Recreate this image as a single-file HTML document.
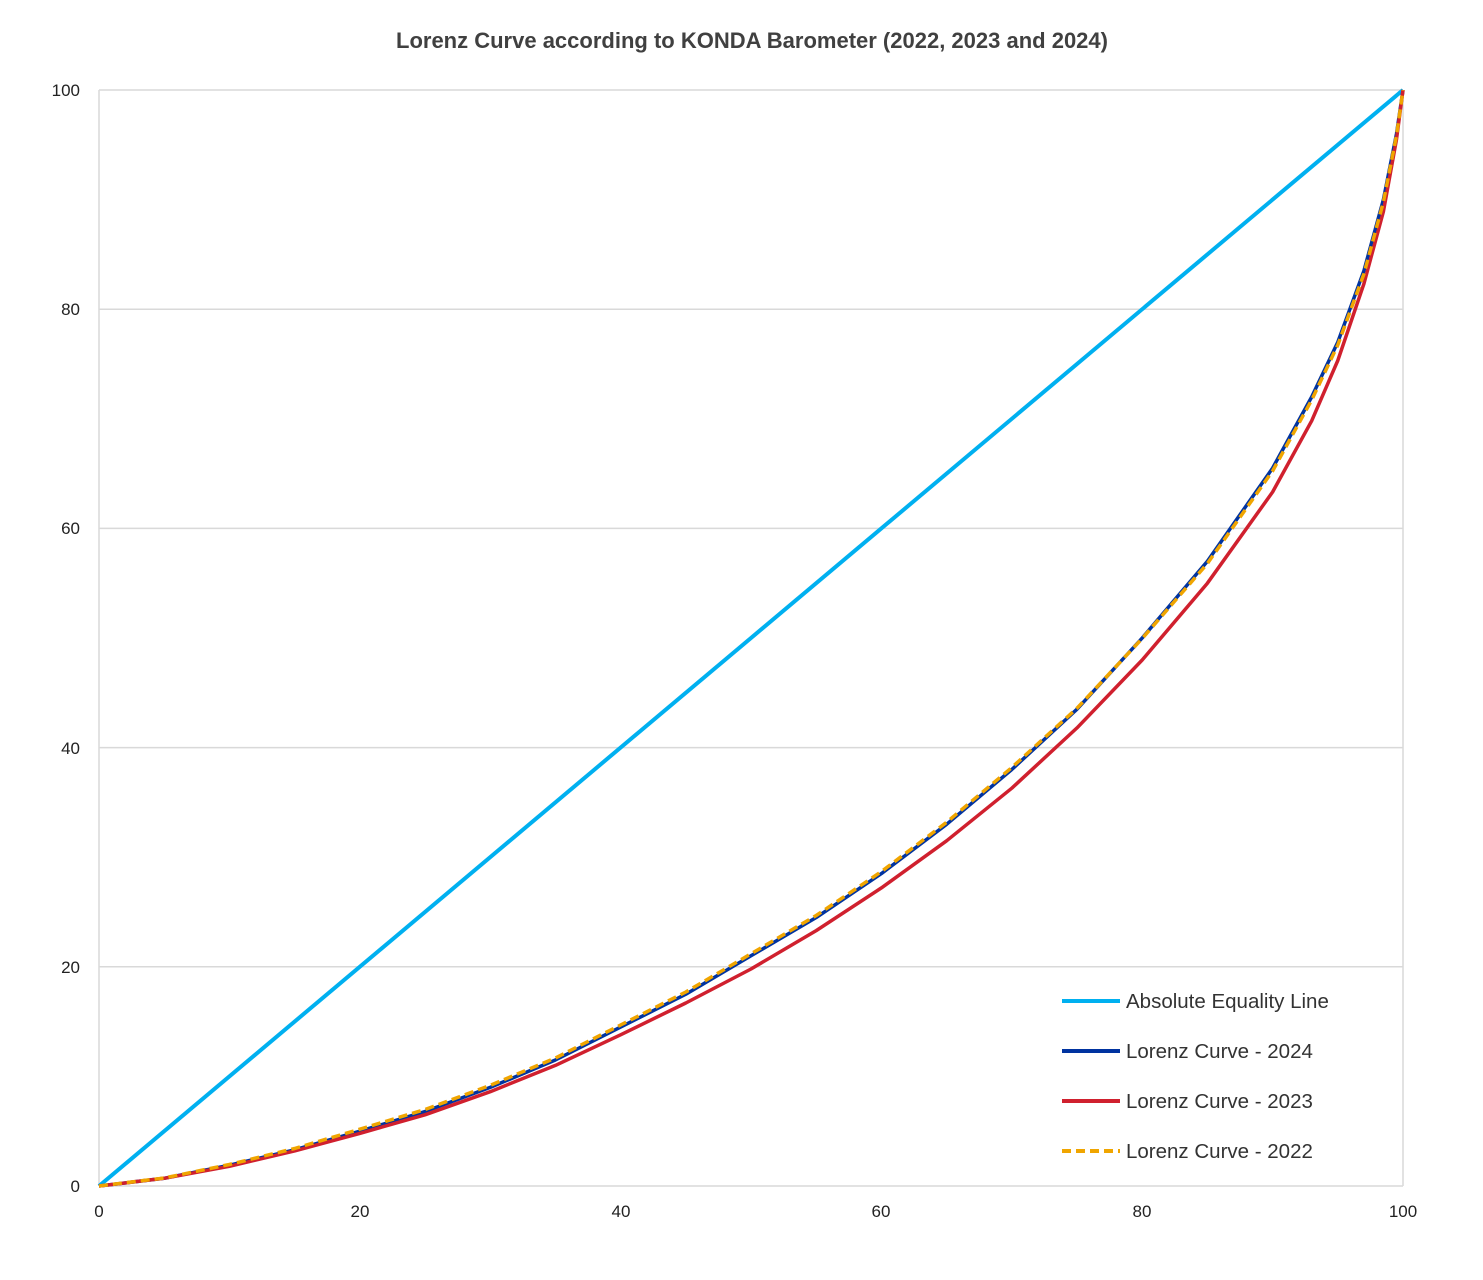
<!DOCTYPE html>
<html><head><meta charset="utf-8"><style>
html,body{margin:0;padding:0;background:#fff;}
svg{display:block;font-family:"Liberation Sans",sans-serif;}
</style></head><body>
<svg width="1483" height="1280" viewBox="0 0 1483 1280" xmlns="http://www.w3.org/2000/svg">
<rect width="1483" height="1280" fill="#fff"/>
<text x="752" y="48" text-anchor="middle" font-size="22" font-weight="bold" fill="#404040">Lorenz Curve according to KONDA Barometer (2022, 2023 and 2024)</text>
<g stroke="#d9d9d9" stroke-width="1.5">
<line x1="99" y1="90" x2="1403" y2="90"/>
<line x1="99" y1="309.2" x2="1403" y2="309.2"/>
<line x1="99" y1="528.4" x2="1403" y2="528.4"/>
<line x1="99" y1="747.6" x2="1403" y2="747.6"/>
<line x1="99" y1="966.8" x2="1403" y2="966.8"/>
<line x1="99" y1="1186" x2="1403" y2="1186"/>
<line x1="99" y1="90" x2="99" y2="1186"/>
<line x1="1403" y1="90" x2="1403" y2="1186"/>
</g>
<g font-size="17" fill="#222" text-anchor="end">
<text x="80" y="96">100</text><text x="80" y="315">80</text><text x="80" y="534">60</text>
<text x="80" y="754">40</text><text x="80" y="973">20</text><text x="80" y="1192">0</text>
</g>
<g font-size="17" fill="#222" text-anchor="middle">
<text x="99" y="1217">0</text><text x="360" y="1217">20</text><text x="621" y="1217">40</text>
<text x="881" y="1217">60</text><text x="1142" y="1217">80</text><text x="1403" y="1217">100</text>
</g>
<line x1="99" y1="1186" x2="1403" y2="90" stroke="#00b0f0" stroke-width="4"/>
<polyline fill="none" stroke="#0033a0" stroke-width="3.5" stroke-linejoin="round" points="99,1186 164.2,1178.3 229.4,1165.2 294.6,1149.8 359.8,1131.2 425,1111.5 490.2,1087.4 555.4,1060 620.6,1027.1 685.8,994.2 751,955.8 816.2,917.5 881.4,873.6 946.6,824.3 1011.8,769.5 1077,709.2 1142.2,638 1207.4,561.3 1272.6,468.1 1311.7,396.9 1337.8,342.1 1363.9,270.8 1383.4,199.6 1396.5,133.8 1403,90"/>
<polyline fill="none" stroke="#d0202e" stroke-width="3.5" stroke-linejoin="round" points="99,1186 164.2,1178.3 229.4,1166.3 294.6,1150.9 359.8,1133.4 425,1114.8 490.2,1091.7 555.4,1065.4 620.6,1034.8 685.8,1003 751,969 816.2,930.6 881.4,887.9 946.6,840.8 1011.8,788.2 1077,727.9 1142.2,660 1207.4,583.2 1272.6,492 1311.7,420.8 1337.8,360.5 1363.9,283.8 1383.4,211.6 1396.5,139.3 1403,90"/>
<polyline fill="none" stroke="#f0a500" stroke-width="3.5" stroke-dasharray="9,5" stroke-linejoin="round" points="99,1186 164.2,1178 229.4,1164.5 294.6,1148.5 359.8,1129.2 425,1109.5 490.2,1085.4 555.4,1058 620.6,1025 685.8,992 751,953.8 816.2,915.5 881.4,871.6 946.6,822.3 1011.8,767.5 1077,708.2 1142.2,638.5 1207.4,563.5 1272.6,471 1311.7,400 1337.8,345 1363.9,274 1383.4,202 1396.5,135.5 1403,90"/>
<g font-size="20.5" fill="#333">
<line x1="1062" y1="1001" x2="1120" y2="1001" stroke="#00b0f0" stroke-width="4"/>
<text x="1126" y="1008">Absolute Equality Line</text>
<line x1="1062" y1="1051" x2="1120" y2="1051" stroke="#0033a0" stroke-width="4"/>
<text x="1126" y="1058">Lorenz Curve - 2024</text>
<line x1="1062" y1="1101" x2="1120" y2="1101" stroke="#d0202e" stroke-width="4"/>
<text x="1126" y="1108">Lorenz Curve - 2023</text>
<line x1="1062" y1="1151" x2="1120" y2="1151" stroke="#f0a500" stroke-width="4" stroke-dasharray="9,5"/>
<text x="1126" y="1158">Lorenz Curve - 2022</text>
</g>
</svg>
</body></html>
